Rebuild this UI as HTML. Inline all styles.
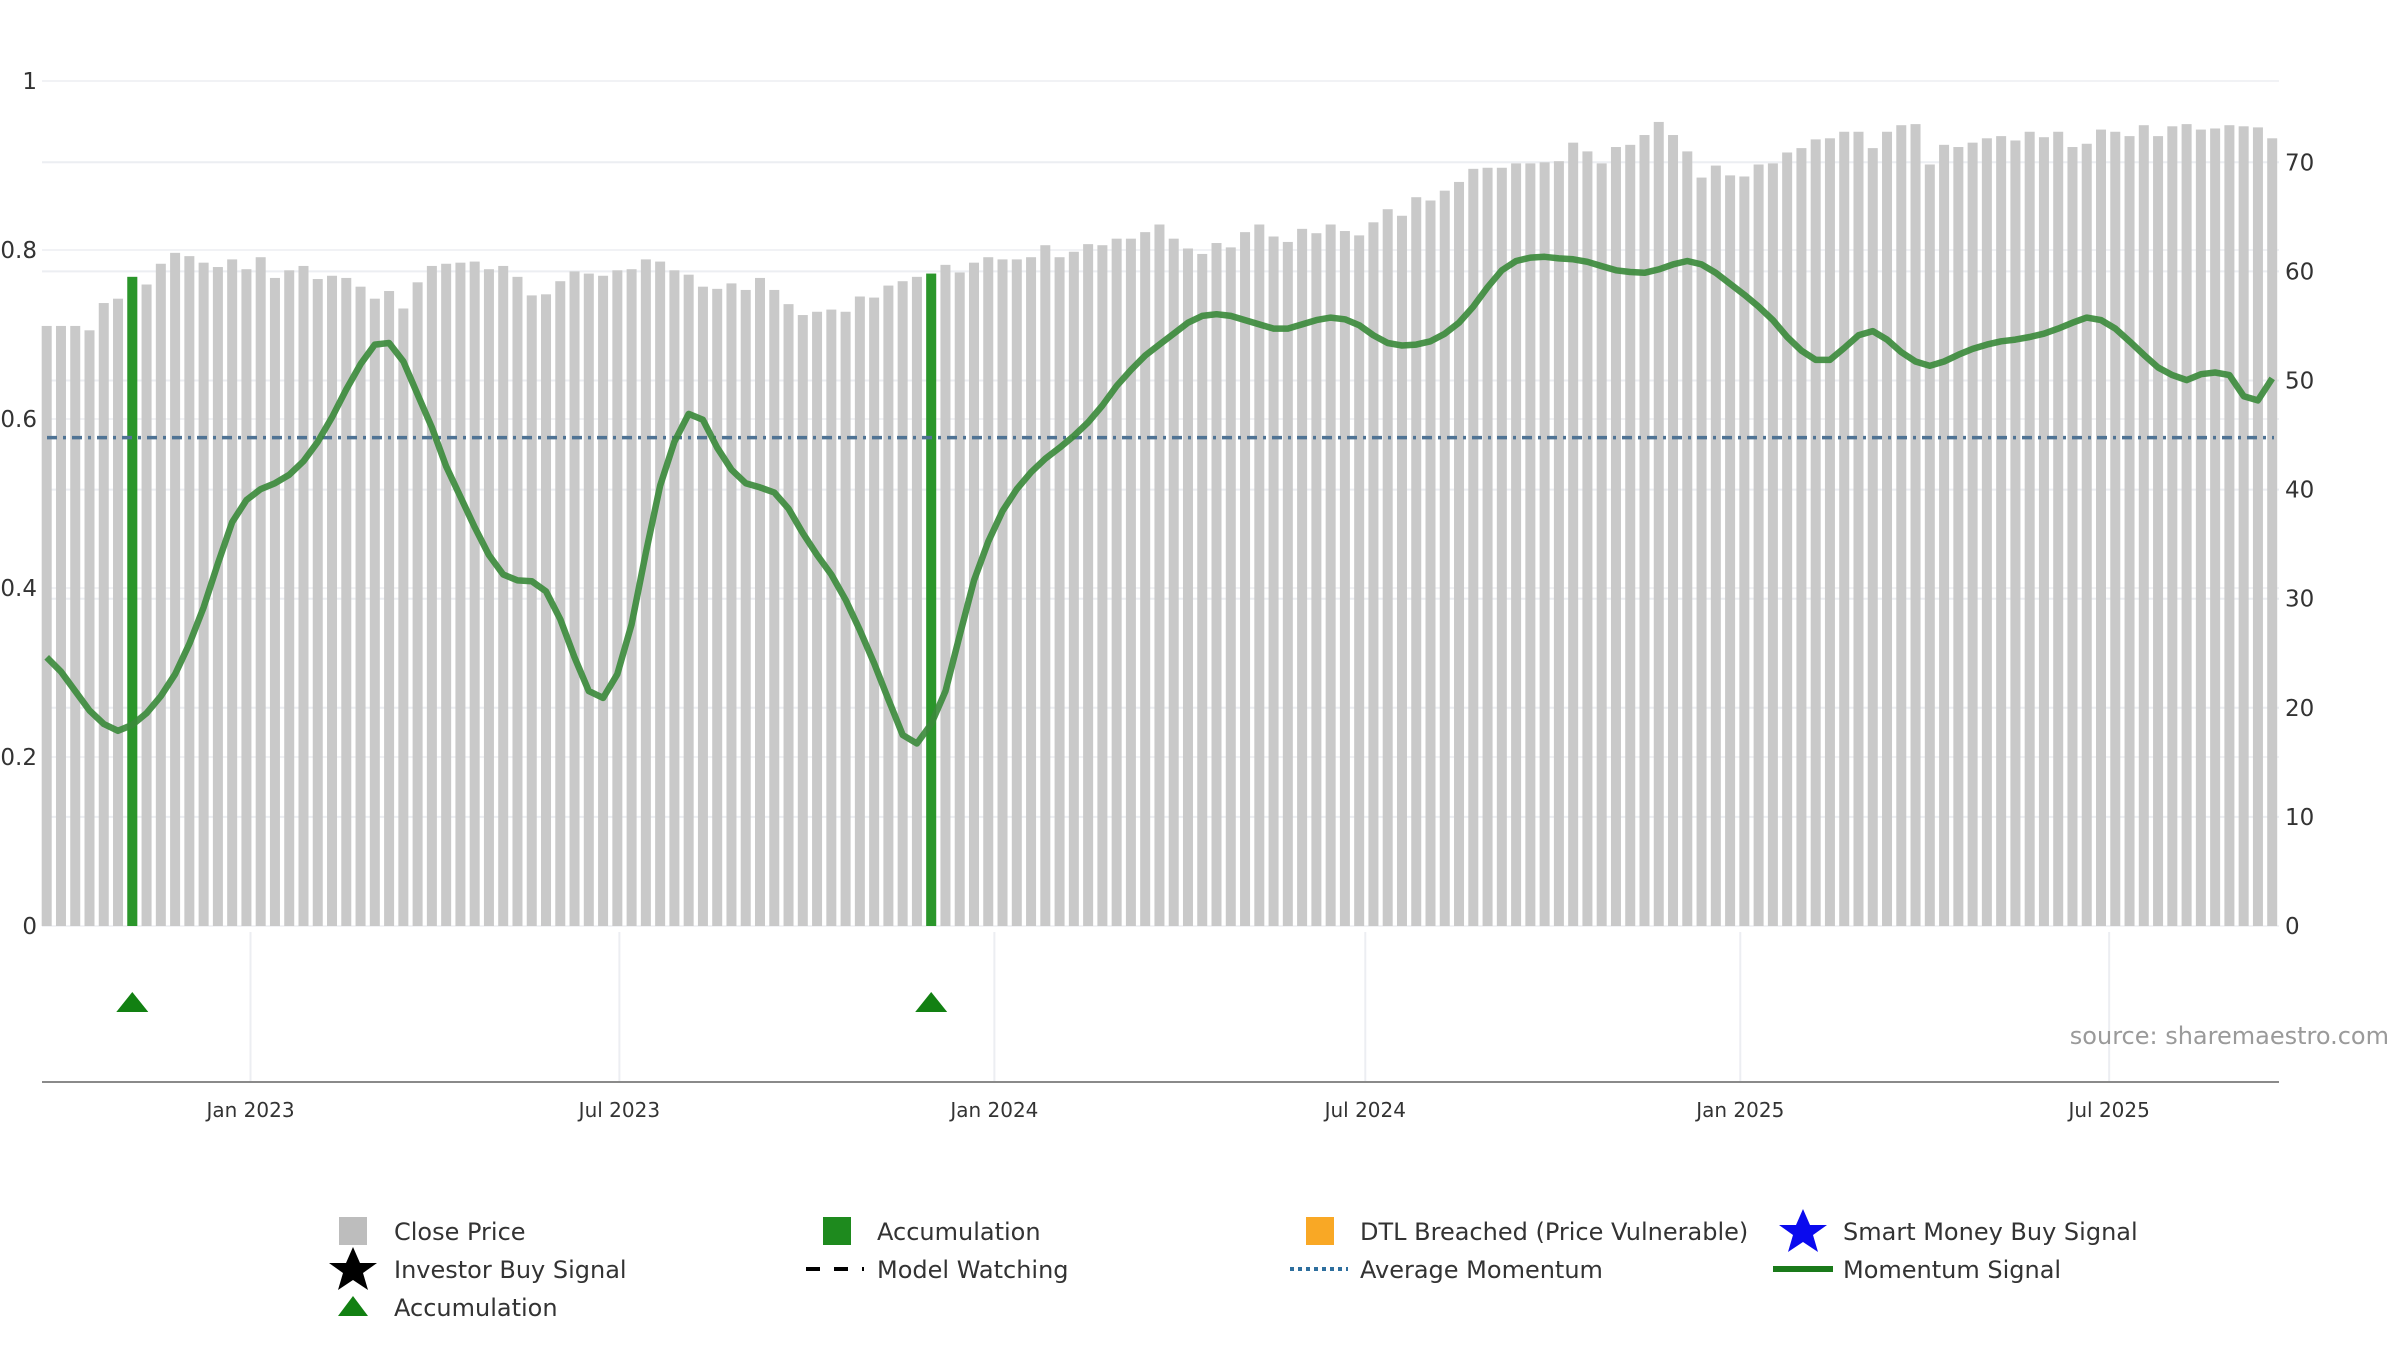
<!DOCTYPE html>
<html>
<head>
<meta charset="utf-8">
<style>
html,body{margin:0;padding:0;background:#fff;}
svg{display:block;font-family:"DejaVu Sans","Liberation Sans",sans-serif;}
</style>
</head>
<body>
<svg id="chart" width="2400" height="1350" viewBox="0 0 2400 1350" xmlns="http://www.w3.org/2000/svg">
  <g id="grid"></g>
  <g id="bars"></g>
  <g id="accbars"></g>
  <g id="lines"></g>
  <g id="axes"></g>
  <g id="markers"></g>
  <text x="2389" y="1044" text-anchor="end" font-size="24" fill="#9a9a9a">source: sharemaestro.com</text>
  <g id="legend" font-size="24" fill="#333">
    <g>
      <rect x="339" y="1217" width="28" height="28" fill="#bdbdbd"/>
      <text x="394" y="1240">Close Price</text>
    </g>
    <g>
      <rect x="823" y="1217" width="28" height="28" fill="#1e8a1e"/>
      <text x="877" y="1240">Accumulation</text>
    </g>
    <g>
      <rect x="1306" y="1217" width="28" height="28" fill="#f9a825"/>
      <text x="1360" y="1240">DTL Breached (Price Vulnerable)</text>
    </g>
    <g>
      <polygon points="1803,1209 1810,1225 1827,1225 1813,1235 1818,1252 1803,1242 1788,1252 1793,1235 1779,1225 1796,1225" fill="#0a0aee"/>
      <text x="1843" y="1240">Smart Money Buy Signal</text>
    </g>
    <g>
      <polygon points="353,1247 360,1263 377,1263 363,1273 368,1290 353,1280 338,1290 343,1273 329,1263 346,1263" fill="#000"/>
      <text x="394" y="1278">Investor Buy Signal</text>
    </g>
    <g>
      <line x1="806" y1="1269" x2="864" y2="1269" stroke="#000" stroke-width="4" stroke-dasharray="14,14"/>
      <text x="877" y="1278">Model Watching</text>
    </g>
    <g>
      <line x1="1290" y1="1269" x2="1348" y2="1269" stroke="#2e6f9e" stroke-width="4" stroke-dasharray="4,4"/>
      <text x="1360" y="1278">Average Momentum</text>
    </g>
    <g>
      <line x1="1773" y1="1269" x2="1833" y2="1269" stroke="#1a7a1a" stroke-width="6"/>
      <text x="1843" y="1278">Momentum Signal</text>
    </g>
    <g>
      <polygon points="353,1296 368,1316 338,1316" fill="#128012"/>
      <text x="394" y="1316">Accumulation</text>
    </g>
  </g>
</svg>
<script>
// ---- data ----
const startDate = "2022-09-23";
const closePrices = [
55.0,55.0,55.0,54.6,57.1,57.5,59.5,58.8,60.7,61.7,61.4,60.8,60.4,61.1,60.2,61.3,59.4,60.1,60.5,59.3,
59.6,59.4,58.6,57.5,58.2,56.6,59.0,60.5,60.7,60.8,60.9,60.2,60.5,59.5,57.8,57.9,59.1,60.0,59.8,59.6,
60.1,60.2,61.1,60.9,60.1,59.7,58.6,58.4,58.9,58.3,59.4,58.3,57.0,56.0,56.3,56.5,56.3,57.7,57.6,58.7,
59.1,59.5,59.8,60.6,59.9,60.8,61.3,61.1,61.1,61.3,62.4,61.3,61.8,62.5,62.4,63.0,63.0,63.6,64.3,63.0,
62.1,61.6,62.6,62.2,63.6,64.3,63.2,62.7,63.9,63.5,64.3,63.7,63.3,64.5,65.7,65.1,66.8,66.5,67.4,68.2,
69.4,69.5,69.5,69.9,69.9,70.0,70.1,71.8,71.0,69.9,71.4,71.6,72.5,73.7,72.5,71.0,68.6,69.7,68.8,68.7,
69.8,69.9,70.9,71.3,72.1,72.2,72.8,72.8,71.3,72.8,73.4,73.5,69.8,71.6,71.4,71.8,72.2,72.4,72.0,72.8,
72.3,72.8,71.4,71.7,73.0,72.8,72.4,73.4,72.4,73.3,73.5,73.0,73.1,73.4,73.3,73.2,72.2];
const momentum = [
0.318,0.301,0.278,0.255,0.239,0.231,0.238,0.252,0.272,0.298,0.334,0.377,0.429,0.478,0.504,0.517,0.524,0.534,0.550,0.573,
0.602,0.635,0.665,0.688,0.690,0.668,0.629,0.590,0.544,0.508,0.472,0.439,0.416,0.409,0.408,0.396,0.363,0.318,0.278,0.270,
0.298,0.357,0.442,0.521,0.573,0.606,0.599,0.566,0.540,0.524,0.519,0.513,0.494,0.465,0.439,0.416,0.386,0.350,0.311,0.268,
0.226,0.216,0.239,0.278,0.344,0.409,0.455,0.491,0.517,0.537,0.553,0.566,0.580,0.596,0.616,0.639,0.658,0.675,0.688,0.701,
0.714,0.722,0.724,0.722,0.717,0.712,0.707,0.707,0.712,0.717,0.720,0.718,0.711,0.699,0.690,0.687,0.688,0.692,0.701,0.714,
0.733,0.756,0.776,0.787,0.791,0.792,0.790,0.789,0.786,0.781,0.776,0.774,0.773,0.777,0.783,0.787,0.783,0.773,0.760,0.747,
0.733,0.717,0.697,0.681,0.670,0.670,0.684,0.699,0.704,0.694,0.679,0.668,0.663,0.668,0.676,0.683,0.688,0.692,0.694,0.697,
0.701,0.707,0.714,0.720,0.717,0.707,0.692,0.676,0.661,0.652,0.646,0.653,0.655,0.652,0.627,0.622,0.648];
const avgMomentum = 0.578;
const accumulationIdx = [6, 62];
const leftTicks = [0, 0.2, 0.4, 0.6, 0.8, 1];
const leftTickLabels = ["0", "0.2", "0.4", "0.6", "0.8", "1"];
const rightTicks = [0, 10, 20, 30, 40, 50, 60, 70];
const dateTicks = ["2023-01-01", "2023-07-01", "2024-01-01", "2024-07-01", "2025-01-01", "2025-07-01"];
const dateTickLabels = ["Jan 2023", "Jul 2023", "Jan 2024", "Jul 2024", "Jan 2025", "Jul 2025"];

// ---- scales ----
const NS = "http://www.w3.org/2000/svg";
const DAY = 86400000;
const ref = Date.parse("2023-01-01");
const xPx = 250.5, pxPerDay = 2.038;
function xDate(d){ return xPx + (Date.parse(d) - ref) / DAY * pxPerDay; }
function dateOf(i){ return new Date(Date.parse(startDate) + i * 7 * DAY).toISOString().slice(0,10); }
function xIdx(i){ return xDate(dateOf(i)); }
const y0 = 926;
function yR(v){ return y0 - v * 10.91; }
function yL(v){ return y0 - v * 845; }
const plotL = 42, plotR = 2279;
function mk(tag, attrs, parent){
  const e = document.createElementNS(NS, tag);
  for (const k in attrs) e.setAttribute(k, attrs[k]);
  parent.appendChild(e); return e;
}
const grid = document.getElementById('grid');
const axes = document.getElementById('axes');
const bars = document.getElementById('bars');
const accbars = document.getElementById('accbars');
const lines = document.getElementById('lines');
const markers = document.getElementById('markers');

// gridlines
rightTicks.forEach(t => {
  const l = mk('line', {x1: plotL, x2: plotR, y1: yR(t), y2: yR(t), stroke: '#eceef2', 'stroke-width': 2}, grid);
  
  
  const tx = mk('text', {x: 2285, y: yR(t) + 8, 'font-size': 23, fill: '#333'}, axes);
  tx.textContent = String(t);
  
  
});
leftTicks.forEach((t, i) => {
  const l = mk('line', {x1: plotL, x2: plotR, y1: yL(t), y2: yL(t), stroke: '#f1f2f5', 'stroke-width': 2}, grid);
  
  
  const tx = mk('text', {x: 37, y: yL(t) + 8, 'font-size': 23, fill: '#333', 'text-anchor': 'end'}, axes);
  tx.textContent = leftTickLabels[i];
  
  
});
// lower panel
dateTicks.forEach((d, i) => {
  const x = xDate(d);
  const l = mk('line', {x1: x, x2: x, y1: 932, y2: 1082, stroke: '#eceef2', 'stroke-width': 2}, grid);
  
  
  const tx = mk('text', {x: x, y: 1117, 'font-size': 20, fill: '#333', 'text-anchor': 'middle'}, axes);
  tx.textContent = dateTickLabels[i];
  
  
});
const xa = mk('line', {x1: plotL, x2: plotR, y1: 1082, y2: 1082, stroke: '#8a8a8a', 'stroke-width': 2}, axes);



// bars
const bw = 10;
closePrices.forEach((v, i) => {
  const x = xIdx(i);
  const r = mk('rect', {x: x - bw/2, y: yR(v), width: bw, height: y0 - yR(v), fill: '#c9c9c9'}, bars);
  
  
});
accumulationIdx.forEach(i => {
  const x = xIdx(i), v = closePrices[i];
  const r = mk('rect', {x: x - bw/2, y: yR(v), width: bw, height: y0 - yR(v), fill: '#2a962a'}, accbars);
  
  
  const t = mk('polygon', {points: `${x},${992} ${x+16},${1012} ${x-16},${1012}`, fill: '#128012'}, markers);
  
  
});

// lines
const avg = mk('line', {x1: plotL + 5, x2: plotR - 5, y1: yL(avgMomentum), y2: yL(avgMomentum), stroke: '#4f7394', 'stroke-width': 3.5, 'stroke-dasharray': '10,6,3,6'}, lines);


const pts = momentum.map((v, i) => xIdx(i).toFixed(1) + ',' + yL(v).toFixed(1)).join(' ');
const ml = mk('polyline', {points: pts, fill: 'none', stroke: '#3a8a3a', 'stroke-width': 6.5, 'stroke-opacity': 0.9, 'stroke-linejoin': 'round'}, lines);


</script>
</body>
</html>
